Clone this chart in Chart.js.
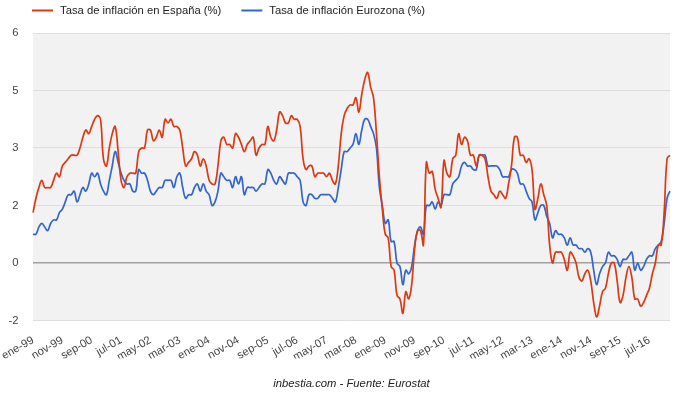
<!DOCTYPE html>
<html lang="es">
<head>
<meta charset="utf-8">
<title>Inflación España vs Eurozona</title>
<script src="https://cdn.jsdelivr.net/npm/chart.js@4.4.1/dist/chart.umd.min.js"></script>
<style>
  html, body { margin: 0; padding: 0; background: #fff; }
</style>
</head>
<body>
<canvas id="inflationChart" width="680" height="398"></canvas>
<script>
// Categories: monthly, ene-99 .. feb-17
const monthNames = ['ene', 'feb', 'mar', 'abr', 'may', 'jun', 'jul', 'ago', 'sep', 'oct', 'nov', 'dic'];
const firstYear = 1999;

// Annual inflation rate, Spain (%), one row per year
const spain = [
  1.4, 1.8, 2.1, 2.3, 2.1, 2.1, 2.1, 2.3, 2.5, 2.4, 2.7, 2.8,       // 1999
  2.9, 3.0, 3.0, 3.0, 3.2, 3.5, 3.7, 3.6, 3.8, 4.0, 4.1, 4.0,       // 2000
  2.9, 2.7, 3.2, 3.6, 3.8, 3.1, 2.3, 2.1, 2.4, 2.5, 2.5, 2.5,       // 2001
  3.1, 3.2, 3.2, 3.7, 3.7, 3.4, 3.5, 3.7, 3.5, 4.0, 3.9, 4.0,       // 2002
  3.8, 3.8, 3.7, 3.2, 2.7, 2.8, 2.9, 3.1, 3.0, 2.7, 2.9, 2.7,       // 2003
  2.3, 2.2, 2.2, 2.7, 3.4, 3.5, 3.3, 3.3, 3.2, 3.6, 3.5, 3.3,       // 2004
  3.1, 3.3, 3.4, 3.5, 3.0, 3.2, 3.3, 3.3, 3.8, 3.5, 3.4, 3.7,       // 2005
  4.2, 4.1, 3.9, 3.9, 4.1, 4.0, 4.0, 3.8, 2.9, 2.6, 2.7, 2.7,       // 2006
  2.4, 2.5, 2.5, 2.5, 2.4, 2.5, 2.3, 2.2, 2.7, 3.6, 4.1, 4.3,       // 2007
  4.4, 4.4, 4.6, 4.2, 4.7, 5.1, 5.3, 4.9, 4.6, 3.6, 2.4, 1.5,       // 2008
  0.8, 0.7, -0.1, -0.2, -0.9, -1.0, -1.4, -0.8, -1.0, -0.6, 0.4, 0.9, // 2009
  0.9, 0.5, 2.8, 2.5, 2.55, 2.05, 1.8, 1.55, 2.85, 2.5, 2.4, 2.9,   // 2010
  3.0, 3.6, 3.3, 3.5, 3.4, 3.0, 3.0, 2.7, 3.0, 3.0, 2.9, 2.4,       // 2011
  2.0, 1.9, 1.8, 2.0, 1.9, 1.8, 2.2, 2.7, 3.5, 3.5, 3.0, 3.0,       // 2012
  2.8, 2.9, 2.6, 1.5, 1.8, 2.2, 1.9, 1.6, 0.5, 0.0, 0.3, 0.3,       // 2013
  0.3, 0.1, -0.2, 0.3, 0.2, 0.0, -0.4, -0.5, -0.3, -0.2, -0.5, -1.1, // 2014
  -1.5, -1.2, -0.8, -0.7, -0.3, 0.0, 0.0, -0.5, -1.1, -0.9, -0.4, -0.1, // 2015
  -0.4, -1.0, -1.0, -1.2, -1.1, -0.9, -0.7, -0.3, 0.0, 0.5, 0.5, 1.4, // 2016
  2.9, 3.0                                                          // 2017
];

// Annual inflation rate, euro area (%)
const eurozone = [
  0.8, 0.8, 1.0, 1.1, 1.0, 0.9, 1.1, 1.2, 1.2, 1.4, 1.5, 1.7,       // 1999
  1.9, 1.9, 2.0, 1.7, 1.9, 2.1, 2.0, 2.2, 2.5, 2.4, 2.5, 2.2,       // 2000
  2.0, 1.9, 2.3, 2.7, 3.1, 2.8, 2.5, 2.3, 2.2, 2.2, 2.0, 2.0,       // 2001
  2.6, 2.5, 2.5, 2.3, 2.0, 1.9, 2.0, 2.1, 2.1, 2.3, 2.3, 2.3,       // 2002
  2.1, 2.4, 2.5, 2.1, 1.8, 1.9, 1.9, 2.1, 2.2, 2.0, 2.2, 2.0,       // 2003
  1.9, 1.6, 1.7, 2.0, 2.5, 2.4, 2.3, 2.3, 2.1, 2.4, 2.2, 2.4,       // 2004
  1.9, 2.1, 2.1, 2.1, 2.0, 2.1, 2.2, 2.2, 2.6, 2.5, 2.3, 2.2,       // 2005
  2.4, 2.3, 2.2, 2.5, 2.5, 2.5, 2.4, 2.3, 1.7, 1.6, 1.9, 1.9,       // 2006
  1.8, 1.8, 1.9, 1.9, 1.9, 1.9, 1.8, 1.7, 2.1, 2.6, 3.1, 3.1,       // 2007
  3.2, 3.3, 3.6, 3.3, 3.7, 4.0, 4.0, 3.8, 3.6, 3.2, 2.1, 1.6,       // 2008
  1.1, 1.2, 0.6, 0.6, 0.0, -0.1, -0.6, -0.2, -0.3, -0.1, 0.5, 0.9,  // 2009
  1.0, 0.8, 1.6, 1.6, 1.7, 1.5, 1.7, 1.6, 1.9, 1.9, 1.9, 2.2,       // 2010
  2.3, 2.4, 2.7, 2.8, 2.7, 2.7, 2.6, 2.6, 3.0, 3.0, 3.0, 2.7,       // 2011
  2.7, 2.7, 2.7, 2.6, 2.4, 2.4, 2.4, 2.6, 2.6, 2.5, 2.2, 2.2,       // 2012
  2.0, 1.8, 1.7, 1.2, 1.4, 1.6, 1.6, 1.3, 1.1, 0.7, 0.9, 0.8,       // 2013
  0.8, 0.7, 0.5, 0.7, 0.5, 0.5, 0.4, 0.4, 0.3, 0.4, 0.3, -0.2,      // 2014
  -0.6, -0.3, -0.1, 0.0, 0.3, 0.2, 0.2, 0.1, -0.1, 0.1, 0.1, 0.2,   // 2015
  0.3, -0.2, 0.0, -0.2, -0.1, 0.1, 0.2, 0.2, 0.4, 0.5, 0.6, 1.1,    // 2016
  1.8, 2.0                                                          // 2017
];

const seriesNames = ['Tasa de inflación en España (%)', 'Tasa de inflación Eurozona (%)'];
const seriesColors = ['#dc3912', '#3366cc'];
const sourceText = 'inbestia.com - Fuente: Eurostat';

// y axis: gridlines every 1.6, labels shown rounded
const yMin = -1.6;
const yMax = 6.4;
const yStep = 1.6;
const labelEvery = 10; // one x label every 10 months

const FONT = '"Liberation Sans", Arial, sans-serif';

// build "ene-99" style labels
const categories = spain.map((_, i) => {
    const year = firstYear + Math.floor(i / 12);
    return monthNames[i % 12] + '-' + String(year).slice(2);
});

// grey plot background like the original
const plotBackground = {
    id: 'plotBackground',
    beforeDraw(chart) {
        const { ctx, chartArea } = chart;
        ctx.save();
        ctx.fillStyle = '#f2f2f2';
        ctx.fillRect(chartArea.left, chartArea.top, chartArea.right - chartArea.left, chartArea.bottom - chartArea.top);
        ctx.restore();
    }
};

// legend drawn as line samples at the top left
const topLegend = {
    id: 'topLegend',
    afterDraw(chart) {
        const ctx = chart.ctx;
        ctx.save();
        ctx.font = '11.25px ' + FONT;
        ctx.textBaseline = 'middle';
        let x = 32;
        const y = 10.5;
        chart.data.datasets.forEach(ds => {
            ctx.strokeStyle = ds.borderColor;
            ctx.lineWidth = 2;
            ctx.beginPath();
            ctx.moveTo(x, y);
            ctx.lineTo(x + 21, y);
            ctx.stroke();
            ctx.fillStyle = '#222';
            ctx.fillText(ds.label, x + 28, y);
            x += 28 + ctx.measureText(ds.label).width + 20;
        });
        ctx.restore();
    }
};

const ctx = document.getElementById('inflationChart').getContext('2d');
const inflationChart = new Chart(ctx, {
    type: 'line',
    data: {
        labels: categories,
        datasets: [
            {
                label: seriesNames[0],
                data: spain,
                borderColor: seriesColors[0],
                borderWidth: 1.7,
                pointRadius: 0,
                tension: 0.4,
                fill: false
            },
            {
                label: seriesNames[1],
                data: eurozone,
                borderColor: seriesColors[1],
                borderWidth: 1.7,
                pointRadius: 0,
                tension: 0.4,
                fill: false
            }
        ]
    },
    options: {
        responsive: false,
        animation: false,
        devicePixelRatio: 1,
        layout: { padding: { top: 33, right: 10, left: 0, bottom: 0 } },
        scales: {
            x: {
                grid: { display: false },
                border: { display: false },
                ticks: {
                    autoSkip: false,
                    minRotation: 30,
                    maxRotation: 30,
                    padding: 5,
                    color: '#444',
                    font: { family: FONT, size: 11.25 },
                    callback: (value, index) => index % labelEvery === 0 ? categories[index] : ''
                },
                afterFit: scale => {
                    // rotated labels may hang past the plot, don't let them shrink it
                    scale.height = 38;
                    scale.paddingLeft = 0;
                    scale.paddingRight = 0;
                }
            },
            y: {
                min: yMin,
                max: yMax,
                grid: {
                    drawTicks: false,
                    color: c => c.tick && Math.abs(c.tick.value) < 1e-9 ? '#a0a0a0' : '#dedede',
                    lineWidth: c => c.tick && Math.abs(c.tick.value) < 1e-9 ? 1.6 : 1
                },
                border: { display: false },
                ticks: {
                    stepSize: yStep,
                    padding: 14.5,
                    color: '#444',
                    font: { family: FONT, size: 11.25 },
                    callback: v => Math.abs(v) < 1e-9 ? '0' : Number(v).toFixed(0)
                },
                afterFit: scale => { scale.width = 33; }
            }
        },
        plugins: {
            legend: { display: false },
            tooltip: { enabled: false },
            title: {
                display: true,
                position: 'bottom',
                fullSize: false,
                text: sourceText,
                color: '#222',
                font: { family: FONT, size: 11.25, style: 'italic', weight: 'normal' },
                padding: { top: 19, bottom: 7 }
            }
        }
    },
    plugins: [plotBackground, topLegend]
});
</script>
</body>
</html>
